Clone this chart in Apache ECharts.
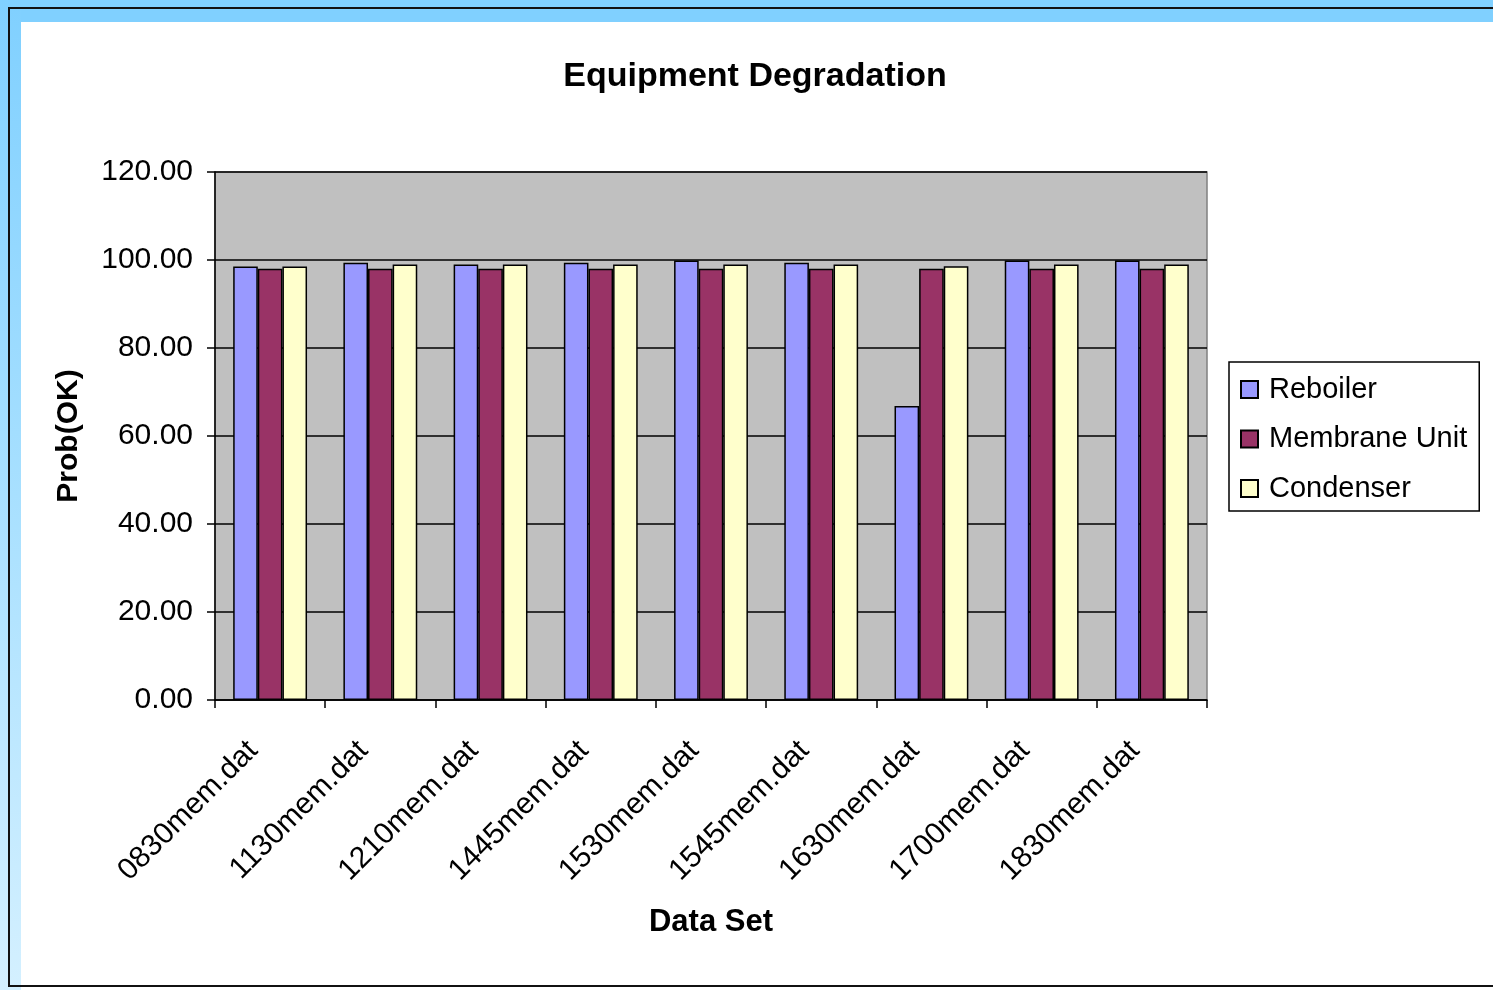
<!DOCTYPE html>
<html>
<head>
<meta charset="utf-8">
<script src="https://cdn.jsdelivr.net/npm/echarts@6/dist/echarts.min.js"></script>
<style>
  html, body { margin: 0; padding: 0; width: 1493px; height: 990px; overflow: hidden; background: #ffffff; }
  #topband { position: absolute; left: 0; top: 0; width: 1493px; height: 22px; background: #80d0ff; }
  #leftband { position: absolute; left: 0; top: 0; width: 21px; height: 990px;
              background: linear-gradient(to bottom, #80d0ff 0%, #a8e0ff 50%, #d4f0ff 100%); }
  #frame { position: absolute; left: 8px; top: 7px; width: 1500px; height: 976px;
           border-left: 2px solid #111; border-top: 2px solid #111; border-bottom: 2px solid #111; }
  #chart { position: absolute; left: 0; top: 0; width: 1493px; height: 990px; }
</style>
</head>
<body>
<div id="topband"></div>
<div id="leftband"></div>
<div id="frame"></div>
<div id="chart"></div>
<script>
// Data sets (x categories) and probability values for each piece of equipment
const categories = ['0830mem.dat', '1130mem.dat', '1210mem.dat', '1445mem.dat', '1530mem.dat',
                    '1545mem.dat', '1630mem.dat', '1700mem.dat', '1830mem.dat'];
const reboiler  = [98.5, 99.4, 99.0, 99.4, 99.9, 99.4, 66.8, 99.9, 99.9];
const membrane  = [98.0, 98.0, 98.0, 98.0, 98.0, 98.0, 98.0, 98.0, 98.0];
const condenser = [98.5, 99.0, 99.0, 99.0, 99.0, 99.0, 98.6, 99.0, 99.0];
const seriesNames = ['Reboiler', 'Membrane Unit', 'Condenser'];
const seriesColors = ['#9999ff', '#993366', '#ffffcc'];

const font = '"Liberation Sans", Arial, sans-serif';
const chart = echarts.init(document.getElementById('chart'), null, { renderer: 'canvas' });

const values = [reboiler, membrane, condenser];
const series = seriesNames.map((name, i) => ({
  name: name,
  type: 'bar',
  data: values[i],
  barGap: '0%',
  barCategoryGap: '33%',
  itemStyle: { color: seriesColors[i], borderColor: '#000000', borderWidth: 1.5 },
  emphasis: { disabled: true }
}));

chart.setOption({
  animation: false,
  backgroundColor: 'transparent',
  title: {
    text: 'Equipment Degradation',
    left: 750, top: 55, textAlign: 'center',
    textStyle: { fontFamily: font, fontSize: 34, fontWeight: 'bold', color: '#000' }
  },
  legend: {
    orient: 'vertical',
    left: 1229, top: 362,
    padding: [13, 12, 8, 11],
    itemGap: 20.5,
    itemWidth: 17, itemHeight: 17,
    icon: 'rect',
    backgroundColor: '#ffffff',
    borderColor: '#000000', borderWidth: 1.5,
    selectedMode: false,
    textStyle: { fontFamily: font, fontSize: 29, color: '#000', padding: [0, 0, 0, 6] },
    data: seriesNames
  },
  grid: {
    left: 215, top: 172, width: 992, height: 528,
    show: true, backgroundColor: '#c0c0c0', borderColor: '#808080', borderWidth: 1.5
  },
  xAxis: {
    type: 'category',
    data: categories,
    name: 'Data Set',
    nameLocation: 'middle',
    nameGap: 207,
    nameTextStyle: { fontFamily: font, fontSize: 31, fontWeight: 'bold', color: '#000' },
    axisLine: { lineStyle: { color: '#000', width: 1.5 } },
    axisTick: { show: true, length: 8, lineStyle: { color: '#000', width: 1.5 } },
    axisLabel: { rotate: 45, margin: 29, padding: [0, 24, 0, 0], fontFamily: font, fontSize: 30,
                 color: '#000', interval: 0 }
  },
  yAxis: {
    type: 'value',
    min: 0, max: 120, interval: 20,
    name: 'Prob(OK)',
    nameLocation: 'middle',
    nameGap: 131,
    nameTextStyle: { fontFamily: font, fontSize: 30, fontWeight: 'bold', color: '#000' },
    axisLine: { show: true, lineStyle: { color: '#000', width: 1.5 } },
    axisTick: { show: true, length: 8, lineStyle: { color: '#000', width: 1.5 } },
    axisLabel: { margin: 22, fontFamily: font, fontSize: 30, color: '#000',
                 formatter: v => v.toFixed(2) },
    splitLine: { show: true, lineStyle: { color: '#000', width: 1.5 } }
  },
  series: series
});
</script>
</body>
</html>
